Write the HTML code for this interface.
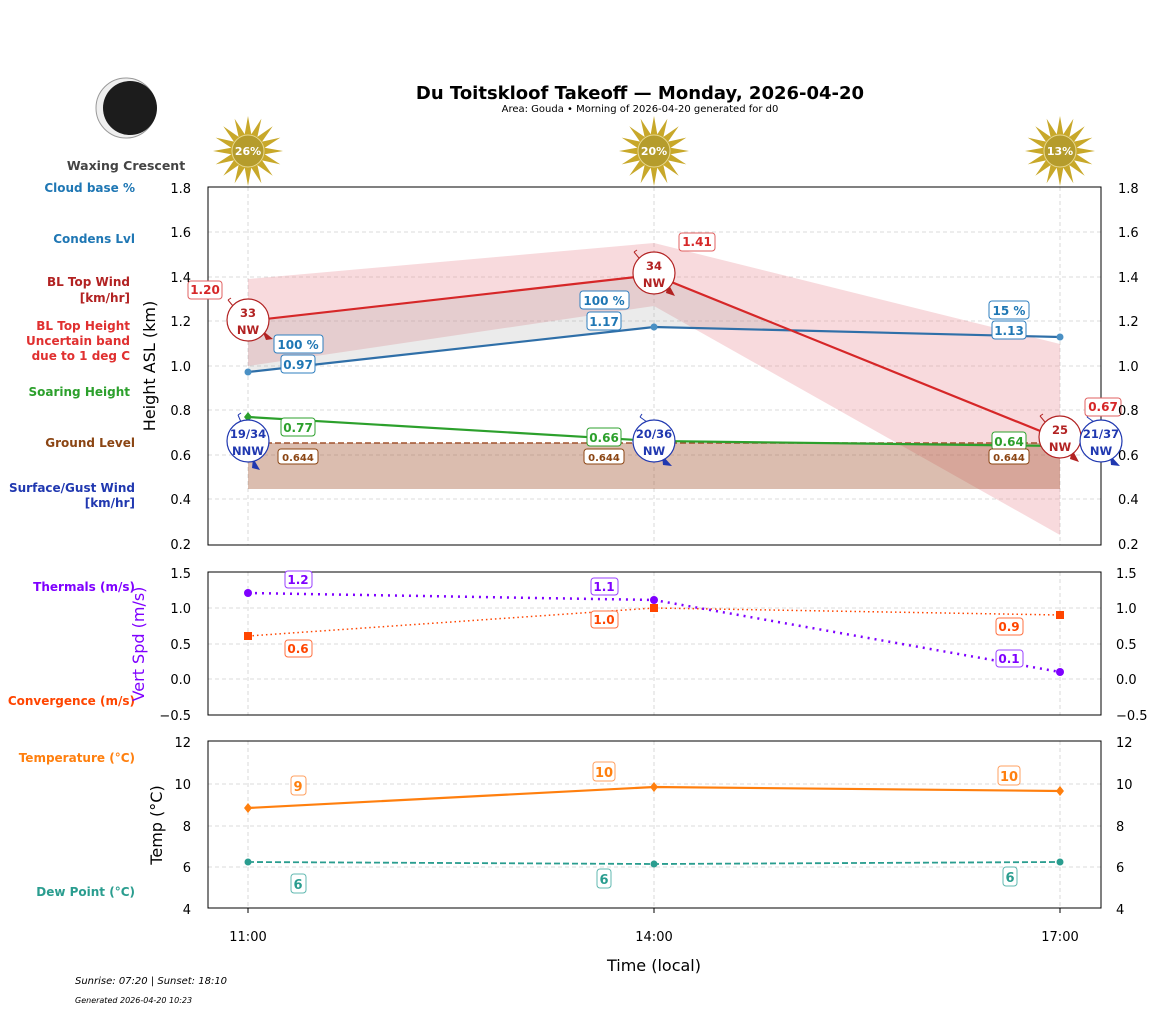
<!DOCTYPE html>
<html><head><meta charset="utf-8"><style>
html,body{margin:0;padding:0;background:#fff}
svg{display:block;font-family:"DejaVu Sans","Liberation Sans",sans-serif}
.t{font-size:13px;fill:#000}
.b{font-weight:bold;font-size:12px}
.grid{stroke:#d0d0d0;stroke-width:0.8;stroke-dasharray:4,3}
</style></head><body>
<svg width="1157" height="1011" viewBox="0 0 1157 1011" xmlns="http://www.w3.org/2000/svg">
<defs>
<polygon id="sun" points="35,0 16.7,3.3 32.3,13.4 14.1,9.4 24.7,24.7 9.4,14.1 13.4,32.3 3.3,16.7 0,35 -3.3,16.7 -13.4,32.3 -9.4,14.1 -24.7,24.7 -14.1,9.4 -32.3,13.4 -16.7,3.3 -35,0 -16.7,-3.3 -32.3,-13.4 -14.1,-9.4 -24.7,-24.7 -9.4,-14.1 -13.4,-32.3 -3.3,-16.7 0,-35 3.3,-16.7 13.4,-32.3 9.4,-14.1 24.7,-24.7 14.1,-9.4 32.3,-13.4 16.7,-3.3"/>
</defs>

<text x="640" y="99" text-anchor="middle" font-size="18" font-weight="bold">Du Toitskloof Takeoff — Monday, 2026-04-20</text>
<text x="640" y="112" text-anchor="middle" font-size="10">Area: Gouda • Morning of 2026-04-20 generated for d0</text>

<circle cx="126" cy="108" r="30" fill="#efefef" stroke="#999" stroke-width="1"/>
<circle cx="130" cy="108" r="27" fill="#1c1c1c"/>
<text x="126" y="170" text-anchor="middle" font-size="12.5" font-weight="bold" fill="#444">Waxing Crescent</text>

<g>
<use href="#sun" x="248" y="151" fill="#c8a82a"/>
<circle cx="248" cy="151" r="16" fill="#b59c2c" stroke="#e8d890" stroke-width="1"/>
<text x="248" y="155" text-anchor="middle" font-size="11" font-weight="bold" fill="#fff">26%</text>
<use href="#sun" x="654" y="151" fill="#c8a82a"/>
<circle cx="654" cy="151" r="16" fill="#b59c2c" stroke="#e8d890" stroke-width="1"/>
<text x="654" y="155" text-anchor="middle" font-size="11" font-weight="bold" fill="#fff">20%</text>
<use href="#sun" x="1060" y="151" fill="#c8a82a"/>
<circle cx="1060" cy="151" r="16" fill="#b59c2c" stroke="#e8d890" stroke-width="1"/>
<text x="1060" y="155" text-anchor="middle" font-size="11" font-weight="bold" fill="#fff">13%</text>
</g>

<g font-weight="bold" font-size="12" text-anchor="end">
<text x="135" y="192" fill="#1f77b4">Cloud base %</text>
<text x="135" y="243" fill="#1f77b4">Condens Lvl</text>
<text x="130" y="286" fill="#b22222">BL Top Wind</text>
<text x="130" y="302" fill="#b22222">[km/hr]</text>
<text x="130" y="330" fill="#e03030">BL Top Height</text>
<text x="130" y="345" fill="#e03030">Uncertain band</text>
<text x="130" y="360" fill="#e03030">due to 1 deg C</text>
<text x="130" y="396" fill="#2ca02c">Soaring Height</text>
<text x="135" y="447" fill="#8b4513">Ground Level</text>
<text x="135" y="492" fill="#2038b0">Surface/Gust Wind</text>
<text x="135" y="507" fill="#2038b0">[km/hr]</text>
<text x="135" y="591" fill="#7f00ff">Thermals (m/s)</text>
<text x="135" y="705" fill="#ff4500">Convergence (m/s)</text>
<text x="135" y="762" fill="#ff7f0e">Temperature (°C)</text>
<text x="135" y="896" fill="#2a9d8f">Dew Point (°C)</text>
</g>

<g>
<line class="grid" x1="208" x2="1101" y1="232" y2="232"/>
<line class="grid" x1="208" x2="1101" y1="277" y2="277"/>
<line class="grid" x1="208" x2="1101" y1="321" y2="321"/>
<line class="grid" x1="208" x2="1101" y1="366" y2="366"/>
<line class="grid" x1="208" x2="1101" y1="410" y2="410"/>
<line class="grid" x1="208" x2="1101" y1="455" y2="455"/>
<line class="grid" x1="208" x2="1101" y1="499" y2="499"/>
<line class="grid" x1="248" x2="248" y1="187" y2="545"/>
<line class="grid" x1="654" x2="654" y1="187" y2="545"/>
<line class="grid" x1="1060" x2="1060" y1="187" y2="545"/>

<polygon points="248,279 654,243 1060,344 1060,535 654,306 248,366" fill="#e8868e" fill-opacity="0.3"/>
<polygon points="248,372 654,327 793,331 654,275 248,321" fill="#9a9a9a" fill-opacity="0.2"/>
<rect x="248" y="443" width="812" height="46" fill="#a0522d" fill-opacity="0.38"/>
<line x1="248" x2="1060" y1="443" y2="443" stroke="#a0522d" stroke-width="1.6" stroke-dasharray="6,3"/>

<polyline points="248,372 654,327 1060,337" fill="none" stroke="#2f6fa8" stroke-width="2.2"/>
<circle cx="248" cy="372" r="3.5" fill="#4a90c4"/><circle cx="654" cy="327" r="3.5" fill="#4a90c4"/><circle cx="1060" cy="337" r="3.5" fill="#4a90c4"/>
<polyline points="248,417 654,441 1060,446" fill="none" stroke="#2ca02c" stroke-width="2.2"/>
<polygon points="248,412 252,417 248,422 244,417" fill="#2ca02c"/>
<polyline points="248,321 654,275 1060,439" fill="none" stroke="#d62728" stroke-width="2.2"/>

<rect x="208" y="187" width="893" height="358" fill="none" stroke="#000" stroke-width="1"/>
</g>

<g font-weight="bold" font-size="11.5" text-anchor="middle">
<g stroke="#b22222" stroke-width="1">
<line x1="233" y1="306" x2="228" y2="300"/><line x1="228" y1="300" x2="231" y2="298"/>
<line x1="639" y1="258" x2="634" y2="252"/><line x1="634" y1="252" x2="637" y2="250"/>
<line x1="1045" y1="422" x2="1040" y2="416"/><line x1="1040" y1="416" x2="1043" y2="414"/>
</g>
<polygon points="262,330 273,339 266,340" fill="#b22222"/>
<polygon points="668,283 675,296 666,293" fill="#b22222"/>
<polygon points="1072,449 1079,462 1070,459" fill="#b22222"/>
<ellipse cx="248" cy="320" rx="21" ry="21" fill="#fff" stroke="#b22222" stroke-width="1.2"/>
<text x="248" y="317" fill="#b22222">33</text><text x="248" y="334" fill="#b22222">NW</text>
<ellipse cx="654" cy="273" rx="21" ry="21" fill="#fff" stroke="#b22222" stroke-width="1.2"/>
<text x="654" y="270" fill="#b22222">34</text><text x="654" y="287" fill="#b22222">NW</text>
<ellipse cx="1060" cy="437" rx="21" ry="21" fill="#fff" stroke="#b22222" stroke-width="1.2"/>
<text x="1060" y="434" fill="#b22222">25</text><text x="1060" y="451" fill="#b22222">NW</text>

<g stroke="#2038b0" stroke-width="1">
<line x1="241" y1="422" x2="238" y2="415"/><line x1="238" y1="415" x2="241" y2="413"/>
<line x1="647" y1="422" x2="640" y2="417"/><line x1="640" y1="417" x2="642" y2="414"/>
<line x1="1094" y1="422" x2="1087" y2="417"/><line x1="1087" y1="417" x2="1089" y2="414"/>
</g>
<polygon points="253,458 260,470 252,468" fill="#2038b0"/>
<polygon points="662,455 672,466 663,465" fill="#2038b0"/>
<polygon points="1110,455 1120,466 1111,465" fill="#2038b0"/>
<ellipse cx="248" cy="441" rx="21" ry="21" fill="#fff" stroke="#2038b0" stroke-width="1.2"/>
<text x="248" y="438" fill="#2038b0">19/34</text><text x="248" y="455" fill="#2038b0">NNW</text>
<ellipse cx="654" cy="441" rx="21" ry="21" fill="#fff" stroke="#2038b0" stroke-width="1.2"/>
<text x="654" y="438" fill="#2038b0">20/36</text><text x="654" y="455" fill="#2038b0">NW</text>
<ellipse cx="1101" cy="441" rx="21" ry="21" fill="#fff" stroke="#2038b0" stroke-width="1.2"/>
<text x="1101" y="438" fill="#2038b0">21/37</text><text x="1101" y="455" fill="#2038b0">NW</text>
</g>

<g font-weight="bold" font-size="12" text-anchor="middle">
<g fill="#fff" stroke-width="1">
<rect x="188" y="281" width="34" height="18" rx="3" stroke="#e06060"/>
<rect x="679" y="233" width="36" height="18" rx="3" stroke="#e06060"/>
<rect x="1085" y="398" width="36" height="18" rx="3" stroke="#e06060"/>
<rect x="274" y="335" width="49" height="18" rx="3" stroke="#2f7fbf"/>
<rect x="580" y="291" width="49" height="18" rx="3" stroke="#2f7fbf"/>
<rect x="989" y="301" width="40" height="18" rx="3" stroke="#2f7fbf"/>
<rect x="281" y="355" width="34" height="18" rx="3" stroke="#2f7fbf"/>
<rect x="587" y="312" width="34" height="18" rx="3" stroke="#2f7fbf"/>
<rect x="992" y="321" width="34" height="18" rx="3" stroke="#2f7fbf"/>
<rect x="281" y="418" width="34" height="18" rx="3" stroke="#2ca02c"/>
<rect x="587" y="428" width="34" height="18" rx="3" stroke="#2ca02c"/>
<rect x="992" y="432" width="34" height="18" rx="3" stroke="#2ca02c"/>
<rect x="278" y="449" width="40" height="15" rx="3" stroke="#8b4513"/>
<rect x="584" y="449" width="40" height="15" rx="3" stroke="#8b4513"/>
<rect x="989" y="449" width="40" height="15" rx="3" stroke="#8b4513"/>
</g>
<text x="205" y="294" fill="#d62728">1.20</text>
<text x="697" y="246" fill="#d62728">1.41</text>
<text x="1103" y="411" fill="#d62728">0.67</text>
<text x="298" y="349" fill="#1f77b4">100 %</text>
<text x="604" y="305" fill="#1f77b4">100 %</text>
<text x="1009" y="315" fill="#1f77b4">15 %</text>
<text x="298" y="369" fill="#1f77b4">0.97</text>
<text x="604" y="326" fill="#1f77b4">1.17</text>
<text x="1009" y="335" fill="#1f77b4">1.13</text>
<text x="298" y="432" fill="#2ca02c">0.77</text>
<text x="604" y="442" fill="#2ca02c">0.66</text>
<text x="1009" y="446" fill="#2ca02c">0.64</text>
<g font-size="10" fill="#8b4513">
<text x="298" y="461">0.644</text><text x="604" y="461">0.644</text><text x="1009" y="461">0.644</text>
</g>
</g>

<g class="t">
<g text-anchor="end">
<text x="191" y="193">1.8</text><text x="191" y="237">1.6</text><text x="191" y="282">1.4</text><text x="191" y="326">1.2</text><text x="191" y="371">1.0</text><text x="191" y="415">0.8</text><text x="191" y="460">0.6</text><text x="191" y="504">0.4</text><text x="191" y="549">0.2</text>
</g>
<text x="1118" y="193">1.8</text><text x="1118" y="237">1.6</text><text x="1118" y="282">1.4</text><text x="1118" y="326">1.2</text><text x="1118" y="371">1.0</text><text x="1118" y="415">0.8</text><text x="1118" y="460">0.6</text><text x="1118" y="504">0.4</text><text x="1118" y="549">0.2</text>
</g>
<text transform="translate(155,366) rotate(-90)" text-anchor="middle" font-size="16">Height ASL (km)</text>

<g>
<line class="grid" x1="208" x2="1101" y1="608" y2="608"/>
<line class="grid" x1="208" x2="1101" y1="644" y2="644"/>
<line class="grid" x1="208" x2="1101" y1="679" y2="679"/>
<line class="grid" x1="248" x2="248" y1="572" y2="715"/>
<line class="grid" x1="654" x2="654" y1="572" y2="715"/>
<line class="grid" x1="1060" x2="1060" y1="572" y2="715"/>
<polyline points="248,636 654,608 1060,615" fill="none" stroke="#ff4500" stroke-width="1.5" stroke-dasharray="1.5,3"/>
<polyline points="248,593 654,600 1060,672" fill="none" stroke="#7f00ff" stroke-width="2.5" stroke-dasharray="2,5"/>
<rect x="244" y="632" width="8" height="8" fill="#ff4500"/><rect x="650" y="604" width="8" height="8" fill="#ff4500"/><rect x="1056" y="611" width="8" height="8" fill="#ff4500"/>
<circle cx="248" cy="593" r="4" fill="#7f00ff"/><circle cx="654" cy="600" r="4" fill="#7f00ff"/><circle cx="1060" cy="672" r="4" fill="#7f00ff"/>
<rect x="208" y="572" width="893" height="143" fill="none" stroke="#000"/>
</g>
<g font-weight="bold" font-size="12" text-anchor="middle">
<g fill="#fff">
<rect x="285" y="571" width="27" height="17" rx="3" stroke="#9a40ff"/>
<rect x="591" y="578" width="27" height="17" rx="3" stroke="#9a40ff"/>
<rect x="996" y="650" width="27" height="17" rx="3" stroke="#9a40ff"/>
<rect x="285" y="640" width="27" height="17" rx="3" stroke="#ff7040"/>
<rect x="591" y="611" width="27" height="17" rx="3" stroke="#ff7040"/>
<rect x="996" y="618" width="27" height="17" rx="3" stroke="#ff7040"/>
</g>
<text x="298" y="584" fill="#7f00ff">1.2</text><text x="604" y="591" fill="#7f00ff">1.1</text><text x="1009" y="663" fill="#7f00ff">0.1</text>
<text x="298" y="653" fill="#ff4500">0.6</text><text x="604" y="624" fill="#ff4500">1.0</text><text x="1009" y="631" fill="#ff4500">0.9</text>
</g>
<g class="t">
<g text-anchor="end">
<text x="191" y="578">1.5</text><text x="191" y="613">1.0</text><text x="191" y="649">0.5</text><text x="191" y="684">0.0</text><text x="191" y="720">−0.5</text>
</g>
<text x="1116" y="578">1.5</text><text x="1116" y="613">1.0</text><text x="1116" y="649">0.5</text><text x="1116" y="684">0.0</text><text x="1116" y="720">−0.5</text>
</g>
<text transform="translate(144,644) rotate(-90)" text-anchor="middle" font-size="16" fill="#7f00ff">Vert Spd (m/s)</text>

<g>
<line class="grid" x1="208" x2="1101" y1="784" y2="784"/>
<line class="grid" x1="208" x2="1101" y1="826" y2="826"/>
<line class="grid" x1="208" x2="1101" y1="867" y2="867"/>
<line class="grid" x1="248" x2="248" y1="741" y2="908"/>
<line class="grid" x1="654" x2="654" y1="741" y2="908"/>
<line class="grid" x1="1060" x2="1060" y1="741" y2="908"/>
<polyline points="248,808 654,787 1060,791" fill="none" stroke="#ff7f0e" stroke-width="2.2"/>
<polyline points="248,862 654,864 1060,862" fill="none" stroke="#2a9d8f" stroke-width="1.8" stroke-dasharray="6,3"/>
<polygon points="248,803 252,808 248,813 244,808" fill="#ff7f0e"/><polygon points="654,782 658,787 654,792 650,787" fill="#ff7f0e"/><polygon points="1060,786 1064,791 1060,796 1056,791" fill="#ff7f0e"/>
<circle cx="248" cy="862" r="3.5" fill="#2a9d8f"/><circle cx="654" cy="864" r="3.5" fill="#2a9d8f"/><circle cx="1060" cy="862" r="3.5" fill="#2a9d8f"/>
<rect x="208" y="741" width="893" height="167" fill="none" stroke="#000"/>
<line x1="248" x2="248" y1="908" y2="913" stroke="#000"/><line x1="654" x2="654" y1="908" y2="913" stroke="#000"/><line x1="1060" x2="1060" y1="908" y2="913" stroke="#000"/>
</g>
<g font-weight="bold" font-size="13" text-anchor="middle">
<g fill="#fff">
<rect x="291" y="776" width="15" height="19" rx="3" stroke="#ffa060"/>
<rect x="593" y="762" width="22" height="19" rx="3" stroke="#ffa060"/>
<rect x="998" y="766" width="22" height="19" rx="3" stroke="#ffa060"/>
<rect x="291" y="874" width="15" height="19" rx="3" stroke="#60b8b0"/>
<rect x="597" y="869" width="14" height="19" rx="3" stroke="#60b8b0"/>
<rect x="1003" y="867" width="14" height="19" rx="3" stroke="#60b8b0"/>
</g>
<text x="298" y="791" fill="#ff7f0e">9</text><text x="604" y="777" fill="#ff7f0e">10</text><text x="1009" y="781" fill="#ff7f0e">10</text>
<text x="298" y="889" fill="#2a9d8f">6</text><text x="604" y="884" fill="#2a9d8f">6</text><text x="1010" y="882" fill="#2a9d8f">6</text>
</g>
<g class="t">
<g text-anchor="end">
<text x="191" y="747">12</text><text x="191" y="789">10</text><text x="191" y="831">8</text><text x="191" y="872">6</text><text x="191" y="914">4</text>
</g>
<text x="1116" y="747">12</text><text x="1116" y="789">10</text><text x="1116" y="831">8</text><text x="1116" y="872">6</text><text x="1116" y="914">4</text>
<g text-anchor="middle">
<text x="248" y="941">11:00</text><text x="654" y="941">14:00</text><text x="1060" y="941">17:00</text>
</g>
</g>
<text transform="translate(162,825) rotate(-90)" text-anchor="middle" font-size="16">Temp (°C)</text>
<text x="654" y="971" text-anchor="middle" font-size="16">Time (local)</text>

<text x="75" y="984" font-size="10" font-style="italic">Sunrise: 07:20 | Sunset: 18:10</text>
<text x="75" y="1003" font-size="8" font-style="italic">Generated 2026-04-20 10:23</text>
</svg>
</body></html>
